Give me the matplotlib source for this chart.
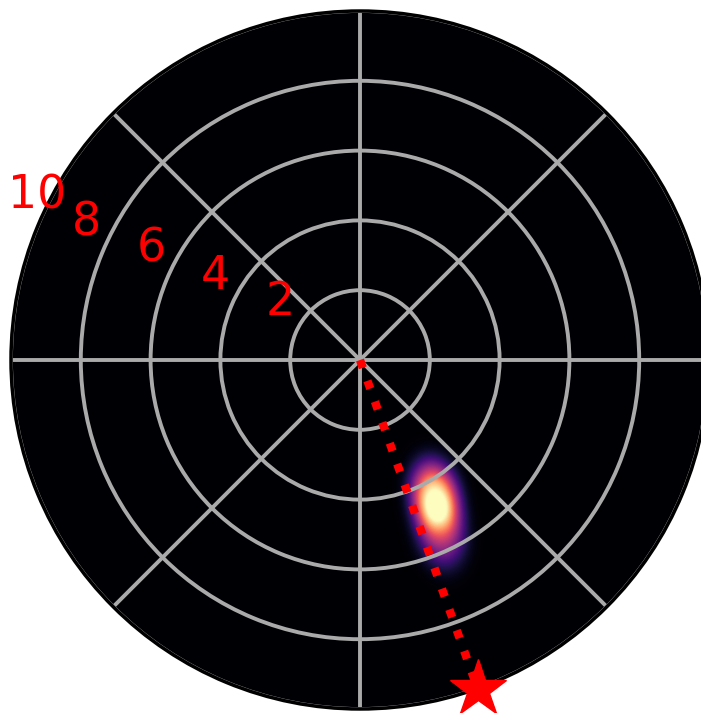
import numpy as np
import matplotlib
matplotlib.use("Agg")
import matplotlib.pyplot as plt
from matplotlib.transforms import ScaledTranslation

# ---- data ----
r_ticks = [2, 4, 6, 8, 10]
r_tick_labels = ["2", "4", "6", "8", "10"]
theta_grid_deg = [0, 45, 90, 135, 180, 225, 270, 315]
star_theta_deg = 289.7
star_r = 10.0
# density blob components (cartesian data units): x, y, sigma_major, sigma_minor, angle_deg, weight
blob_x = [2.15, 2.32]
blob_y = [-3.90, -4.85]
blob_smaj = [0.74, 0.80]
blob_smin = [0.50, 0.52]
blob_ang = [99.7, 99.7]
blob_w = [1.0, 0.55]

fig = plt.figure(figsize=(7.01, 7.13), dpi=100)
ax = fig.add_axes([11 / 701, 4 / 713, 698 / 701, 698 / 713], projection="polar")

# density field on polar mesh
th = np.linspace(0, 2 * np.pi, 1081)
rr = np.linspace(0, 10, 501)
TH, RR = np.meshgrid(th, rr)
X = RR * np.cos(TH)
Y = RR * np.sin(TH)
Z = np.zeros_like(X)
for x0, y0, sa, sb, ang, w in zip(blob_x, blob_y, blob_smaj, blob_smin, blob_ang, blob_w):
    a = np.deg2rad(ang)
    dx, dy = X - x0, Y - y0
    u = dx * np.cos(a) + dy * np.sin(a)
    v = -dx * np.sin(a) + dy * np.cos(a)
    q = (u / sa) ** 2 + (v / sb) ** 2
    Z += w * np.exp(-0.5 * q ** 1.3)
ax.pcolormesh(TH, RR, Z, cmap="magma", shading="gouraud", vmin=0, vmax=Z.max() * 0.85, zorder=0.5)

ax.set_ylim(0, 10)
ax.set_rticks(r_ticks)
ax.set_yticklabels([])
ax.set_thetagrids(theta_grid_deg, labels=[""] * len(theta_grid_deg))
ax.grid(True, color="#aaaaaa", linewidth=2.8)
ax.spines["polar"].set_color("black")
ax.spines["polar"].set_linewidth(2.5)
ax.tick_params(axis="both", length=0)

# radial labels
off = ScaledTranslation(-0.30, 0.08, fig.dpi_scale_trans)
for r, lab in zip(r_ticks, r_tick_labels):
    ax.text(np.deg2rad(157.5), r, lab, color="red", fontsize=33, ha="left", va="bottom",
            transform=ax.transData + off, clip_on=False, zorder=5)

# dotted line and star
t = np.deg2rad(star_theta_deg)
ax.plot([t, t], [0, star_r], color="red", linestyle=":", linewidth=6, zorder=3)
ax.plot([t], [star_r], marker="*", markersize=43, color="red", clip_on=False, zorder=4)

fig.savefig("out.png", dpi=100)
